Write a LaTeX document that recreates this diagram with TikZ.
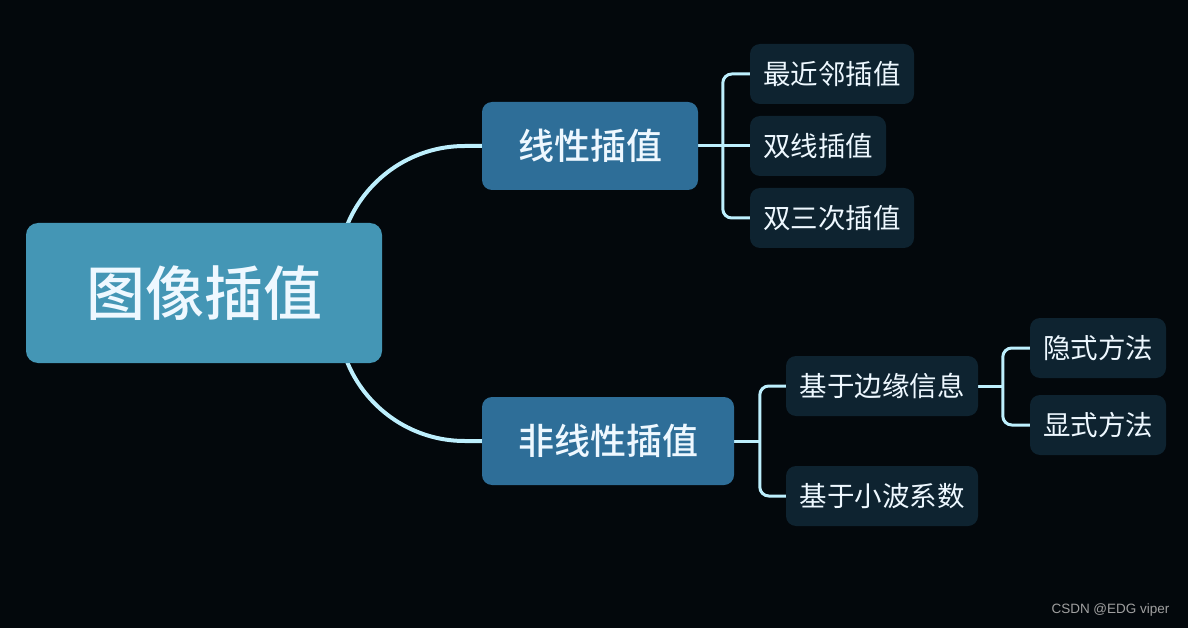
\documentclass[tikz,border=0pt]{standalone}
\usepackage{fontspec}
\setmainfont{Liberation Sans}
\newfontfamily\cjk{Noto Sans CJK SC}
\newfontfamily\cjkmed{Noto Sans CJK SC Medium}
\definecolor{bgc}{HTML}{03080C}
\definecolor{rootc}{HTML}{4496B5}
\definecolor{midc}{HTML}{2E6E98}
\definecolor{leafc}{HTML}{0E2330}
\definecolor{linec}{HTML}{BDEFFD}
\definecolor{txtc}{HTML}{EEF8FF}
\definecolor{wmc}{HTML}{A0A0A0}
\pgfdeclarelayer{back}
\pgfdeclarelayer{bg}
\pgfsetlayers{back,bg,main}
\tikzset{
  rootbox/.style={fill=rootc, rounded corners=12pt, minimum width=356pt, minimum height=140pt, inner sep=0pt, text=txtc, font=\cjkmed\fontsize{59}{61}\selectfont},
  midbox/.style={fill=midc, rounded corners=10pt, minimum height=88pt, inner sep=0pt, text=txtc, font=\cjkmed\fontsize{36}{38}\selectfont},
  leafbox/.style={fill=leafc, rounded corners=10pt, minimum height=60pt, inner sep=0pt, text=txtc, font=\cjk\fontsize{27.5}{30}\selectfont},
  mainline/.style={draw=linec, line width=4pt},
  brline/.style={draw=linec, line width=3pt, rounded corners=9pt},
}
\begin{document}
\begin{tikzpicture}[x=1pt,y=-1pt]
\begin{pgfonlayer}{back}
\fill[bgc] (0,0) rectangle (1188,628);
\end{pgfonlayer}
\useasboundingbox (0,0) rectangle (1188,628);

\node[rootbox] (root) at (204,293) {图像插值};
\node[midbox, minimum width=216pt] (lin) at (590,146) {线性插值};
\node[midbox, minimum width=252pt] (nl) at (608,441) {非线性插值};

\node[leafbox, minimum width=164pt] (a1) at (832,74) {最近邻插值};
\node[leafbox, minimum width=136pt] (a2) at (818,146) {双线插值};
\node[leafbox, minimum width=164pt] (a3) at (832,218) {双三次插值};

\node[leafbox, minimum width=192pt] (b1) at (882,386) {基于边缘信息};
\node[leafbox, minimum width=192pt] (b2) at (882,496) {基于小波系数};

\node[leafbox, minimum width=136pt] (c1) at (1098,348) {隐式方法};
\node[leafbox, minimum width=136pt] (c2) at (1098,425) {显式方法};

\node[text=wmc, font=\fontsize{13.5}{15}\selectfont, anchor=east] (wm) at (1173,610) {CSDN @EDG viper};

\begin{pgfonlayer}{bg}
\draw[mainline] (lin.west) -- ++(-17,0) arc[start angle=-90, end angle=-180, radius=127];
\draw[mainline] (nl.west) -- ++(-17,0) arc[start angle=90, end angle=180, radius=127];

\draw[brline] (lin.east) -- (a2.west);
\draw[brline] (a1.west) -- ([xshift=-27pt]a1.west) |- (a3.west);

\draw[brline] (nl.east) -- ([xshift=-26pt]b1.west |- nl.east);
\draw[brline] (b1.west) -- ([xshift=-26pt]b1.west) |- (b2.west);

\draw[brline] (b1.east) -- ([xshift=-27pt]c1.west |- b1.east);
\draw[brline] (c1.west) -- ([xshift=-27pt]c1.west) |- (c2.west);
\end{pgfonlayer}
\end{tikzpicture}
\end{document}
